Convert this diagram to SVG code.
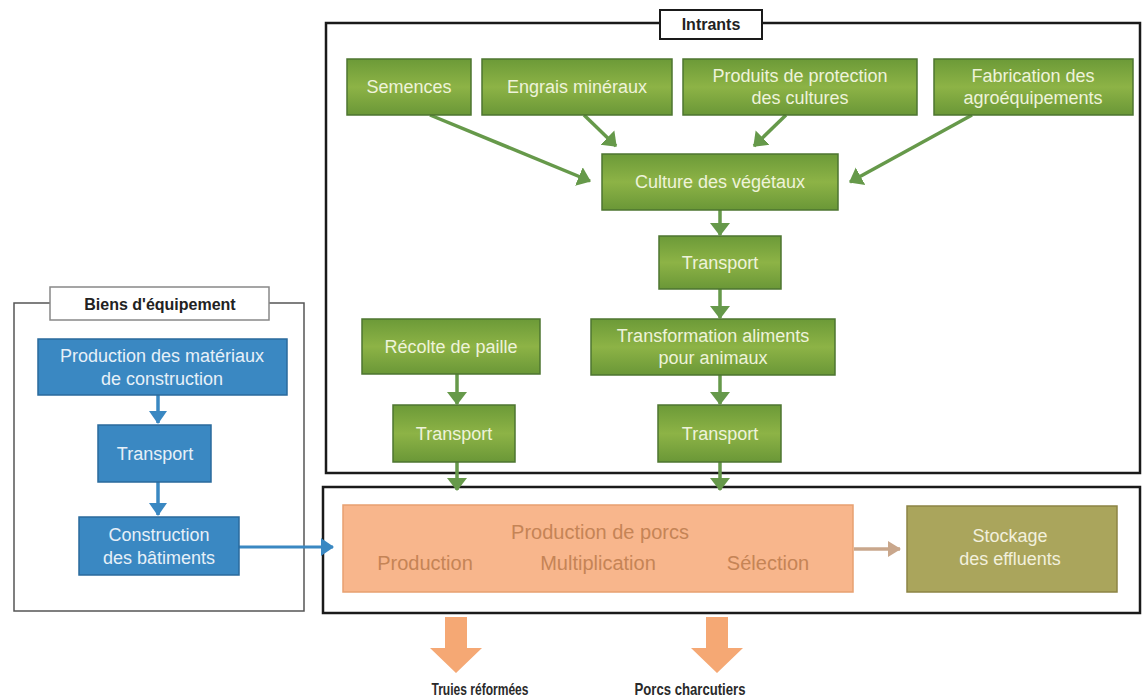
<svg xmlns="http://www.w3.org/2000/svg" width="1143" height="699" viewBox="0 0 1143 699">
<style>
  text { font-family: "Liberation Sans", Arial, sans-serif; text-anchor: middle; }
  .frame { fill: none; stroke: #1a1a1a; stroke-width: 2.5; }
  .frame2 { fill: none; stroke: #555; stroke-width: 1.5; }
  .g { fill: url(#gg); stroke: #4d7530; stroke-width: 1.5; }
  .gt { fill: #eef3da; font-size: 18px; }
  .b { fill: #3a88c2; stroke: #2a6a9c; stroke-width: 1.5; }
  .bt { fill: #e6f0f8; font-size: 18px; }
  .ot { fill: #c58456; font-size: 20px; }
  .ga { stroke: #66994a; stroke-width: 3.5; fill: none; }
  .ba { stroke: #3a88c2; stroke-width: 3.5; fill: none; }
  .title { fill: #222; font-size: 16px; font-weight: bold; }
  .out { fill: #2a2a2a; font-size: 17px; font-weight: bold; }
</style>
<defs>
  <linearGradient id="gg" x1="0" y1="0" x2="0" y2="1">
    <stop offset="0" stop-color="#6c9a38"/>
    <stop offset="0.5" stop-color="#8db346"/>
    <stop offset="1" stop-color="#6a9737"/>
  </linearGradient>
  <marker id="mg" markerUnits="userSpaceOnUse" markerWidth="22" markerHeight="22" viewBox="0 0 22 22" refX="12" refY="11" orient="auto">
    <path d="M0,1 L13,11 L0,21 z" fill="#66994a"/>
  </marker>
  <marker id="mb" markerUnits="userSpaceOnUse" markerWidth="22" markerHeight="22" viewBox="0 0 22 22" refX="12" refY="11" orient="auto">
    <path d="M0,2 L13,11 L0,20 z" fill="#3a88c2"/>
  </marker>
  <marker id="mt" markerUnits="userSpaceOnUse" markerWidth="20" markerHeight="20" viewBox="0 0 20 20" refX="12" refY="10" orient="auto">
    <path d="M0,2 L13,10 L0,18 z" fill="#c9a78c"/>
  </marker>
</defs>

<!-- frames -->
<g id="frame-intrants">
  <rect class="frame" x="326" y="23" width="814" height="450"/>
  <rect x="660" y="10" width="102" height="29" fill="#fff" stroke="#1a1a1a" stroke-width="2"/>
  <text class="title" x="711" y="30">Intrants</text>
</g>
<g id="frame-production">
  <rect class="frame" x="323" y="487" width="817" height="126"/>
</g>
<g id="frame-biens">
  <rect class="frame2" x="14" y="303" width="290" height="308"/>
  <rect x="50" y="287" width="219" height="33" fill="#fff" stroke="#888" stroke-width="1.5"/>
  <text class="title" x="160" y="310" font-size="19px" fill="#333">Biens d'équipement</text>
</g>

<!-- connectors -->
<g id="connectors">
  <line class="ga" x1="430" y1="115" x2="590" y2="181" marker-end="url(#mg)"/>
  <line class="ga" x1="584" y1="115" x2="616" y2="146" marker-end="url(#mg)"/>
  <line class="ga" x1="786" y1="115" x2="754" y2="146" marker-end="url(#mg)"/>
  <line class="ga" x1="972" y1="115" x2="850" y2="182" marker-end="url(#mg)"/>
  <line class="ga" x1="720" y1="210" x2="720" y2="235" marker-end="url(#mg)"/>
  <line class="ga" x1="720" y1="289" x2="720" y2="318" marker-end="url(#mg)"/>
  <line class="ga" x1="457" y1="374" x2="457" y2="404" marker-end="url(#mg)"/>
  <line class="ga" x1="720" y1="375" x2="720" y2="404" marker-end="url(#mg)"/>
  <line class="ga" x1="457" y1="462" x2="457" y2="490" marker-end="url(#mg)"/>
  <line class="ga" x1="720" y1="462" x2="720" y2="490" marker-end="url(#mg)"/>
  <line class="ba" x1="158" y1="395" x2="158" y2="423" marker-end="url(#mb)"/>
  <line class="ba" x1="158" y1="482" x2="158" y2="515" marker-end="url(#mb)"/>
  <line stroke="#3a88c2" stroke-width="3" x1="239" y1="547" x2="333" y2="547" marker-end="url(#mb)"/>
  <line stroke="#c9a78c" stroke-width="3.5" x1="854" y1="549" x2="900" y2="549" marker-end="url(#mt)"/>
  <path d="M445,617 H467 V648 H482 L456,673 L430,648 H445 Z" fill="#f5a874"/>
  <path d="M706,617 H728 V648 H743 L717,673 L691,648 H706 Z" fill="#f5a874"/>
</g>

<!-- green nodes -->
<g id="semences"><rect class="g" x="347" y="59" width="124" height="56"/><text class="gt" x="409" y="93">Semences</text></g>
<g id="engrais"><rect class="g" x="482" y="59" width="190" height="56"/><text class="gt" x="577" y="93">Engrais minéraux</text></g>
<g id="produits"><rect class="g" x="683" y="59" width="234" height="56"/><text class="gt" x="800" y="82">Produits de protection</text><text class="gt" x="800" y="104">des cultures</text></g>
<g id="fabrication"><rect class="g" x="934" y="59" width="199" height="56"/><text class="gt" x="1033" y="82">Fabrication des</text><text class="gt" x="1033" y="104">agroéquipements</text></g>
<g id="culture"><rect class="g" x="602" y="154" width="236" height="56"/><text class="gt" x="720" y="188">Culture des végétaux</text></g>
<g id="transport1"><rect class="g" x="659" y="236" width="122" height="53"/><text class="gt" x="720" y="269">Transport</text></g>
<g id="recolte"><rect class="g" x="362" y="319" width="178" height="55"/><text class="gt" x="451" y="353">Récolte de paille</text></g>
<g id="transformation"><rect class="g" x="591" y="319" width="244" height="56"/><text class="gt" x="713" y="342">Transformation aliments</text><text class="gt" x="713" y="364">pour animaux</text></g>
<g id="transport2"><rect class="g" x="393" y="405" width="122" height="57"/><text class="gt" x="454" y="440">Transport</text></g>
<g id="transport3"><rect class="g" x="658" y="405" width="123" height="57"/><text class="gt" x="720" y="440">Transport</text></g>

<!-- blue nodes -->
<g id="materiaux"><rect class="b" x="38" y="339" width="249" height="56"/><text class="bt" x="162" y="362">Production des matériaux</text><text class="bt" x="162" y="385">de construction</text></g>
<g id="transport-b"><rect class="b" x="98" y="425" width="113" height="57"/><text class="bt" x="155" y="460">Transport</text></g>
<g id="construction"><rect class="b" x="79" y="517" width="160" height="58"/><text class="bt" x="159" y="541">Construction</text><text class="bt" x="159" y="564">des bâtiments</text></g>

<!-- production -->
<g id="production-porcs">
  <rect x="343" y="505" width="510" height="87" fill="#f8b68c" stroke="#e7a070" stroke-width="1.5"/>
  <text class="ot" x="600" y="539" fill="#bf7d4f">Production de porcs</text>
  <text class="ot" x="425" y="570">Production</text>
  <text class="ot" x="598" y="570">Multiplication</text>
  <text class="ot" x="768" y="570">Sélection</text>
</g>
<g id="stockage">
  <rect x="907" y="506" width="210" height="86" fill="#aaa55c" stroke="#8c8444" stroke-width="1.5"/>
  <text x="1010" y="542" font-size="18px" fill="#f2f0dc">Stockage</text>
  <text x="1010" y="565" font-size="18px" fill="#f2f0dc">des effluents</text>
</g>

<!-- outputs -->
<g id="truies"><text class="out" x="480" y="695" textLength="97" lengthAdjust="spacingAndGlyphs">Truies réformées</text></g>
<g id="porcs"><text class="out" x="690" y="695" textLength="111" lengthAdjust="spacingAndGlyphs">Porcs charcutiers</text></g>
</svg>
